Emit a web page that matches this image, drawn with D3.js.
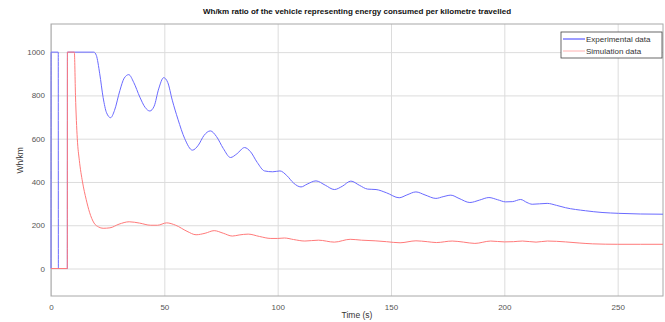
<!DOCTYPE html>
<meta charset="utf-8">
<style>
body { margin: 0; background: #fff; }
svg { font-family: "Liberation Sans", Arial, sans-serif; }
.grid line { stroke: #dcdcdc; stroke-width: 1px; }
.grid path { stroke: none; }
.axis text { fill: #555; font-size: 8px; }
.axis path, .axis line { stroke: none; }
.line { fill: none; stroke-width: 1px; }
</style>
<body>
<script src="https://d3js.org/d3.v7.min.js"></script>
<script>
// Experimental data: time (s) and Wh/km
var expTime = [0, 0.05, 3.2, 3.25, 7.2, 7.25, 18.9, 20, 21.5, 23, 24.5, 26.3, 28, 30.4, 32.3, 34.3, 36.5, 39.2, 41.5, 43.6, 45.5, 47.5, 49.7, 51.5, 53.5, 56, 59, 62.4, 65, 67.5, 70.3, 73, 76, 79.2, 82, 85.4, 88, 91, 94.2, 97.8, 101, 104, 107, 110.3, 113, 116.9, 121, 125, 128.5, 132.3, 136, 139.7, 143.4, 148, 153.6, 157, 161, 165, 169.8, 173, 176.4, 180, 184.8, 189, 193.2, 197, 200.6, 203.5, 207.2, 210, 212.3, 218.9, 223, 227, 235.8, 243.1, 250.4, 260, 270];
var expValue = [0, 1000, 1000, 0, 0, 1000, 1000, 985, 900, 790, 720, 697, 730, 823, 880, 896, 860, 792, 745, 728, 750, 830, 882, 860, 778, 690, 600, 547, 570, 615, 636, 610, 555, 513, 530, 559, 540, 490, 451, 447, 451, 430, 395, 377, 390, 405, 385, 365, 380, 404, 385, 367, 365, 350, 327, 340, 354, 340, 324, 332, 339, 324, 305, 316, 328, 318, 308, 309, 319, 305, 297, 301, 292, 281, 267, 259, 255, 252, 251];

// Simulation data
var simTime = [0, 7.2, 7.25, 10.3, 10.8, 11.6, 12.5, 13.9, 15.5, 17, 19, 21, 23, 26, 30, 34.5, 39, 44, 47, 51, 55, 60, 64, 68, 72, 76, 80, 83, 87, 92, 97, 100, 103, 107, 112, 118, 125, 132, 137, 143, 148, 154, 161, 166, 170, 177, 182, 187, 194, 200, 204, 208, 214, 219, 227, 233, 239, 250, 260, 270];
var simValue = [0, 0, 1000, 1000, 800, 600, 500, 400, 320, 260, 210, 192, 186, 188, 205, 216, 210, 200, 200, 211, 200, 172, 156, 163, 175, 163, 150, 155, 159, 148, 139, 139, 141, 134, 127, 131, 122, 135, 131, 128, 124, 119, 128, 124, 120, 127, 122, 116, 127, 123, 124, 127, 122, 127, 123, 118, 114, 112, 112, 112];

var xTicks = [0, 50, 100, 150, 200, 250];
var yTicks = [0, 200, 400, 600, 800, 1000];
var seriesNames = ["Experimental data", "Simulation data"];
var seriesColors = ["#6a6aff", "#ff7a7a"];

var W = 665, H = 322;
var margin = {top: 24, right: 2, bottom: 26, left: 51};
var width = W - margin.left - margin.right,
    height = H - margin.top - margin.bottom;

var svg = d3.select("body").append("svg")
    .attr("width", W)
    .attr("height", H);

var g = svg.append("g")
    .attr("transform", "translate(" + margin.left + "," + margin.top + ")");

var x = d3.scaleLinear().domain([0, 270]).range([0, width]);
var y = d3.scaleLinear().domain([-127, 1130]).range([height, 0]);

// grid
g.append("g").attr("class", "grid")
    .attr("transform", "translate(0," + height + ")")
    .call(d3.axisBottom(x).tickValues(xTicks).tickSize(-height).tickFormat(""));
g.append("g").attr("class", "grid")
    .call(d3.axisLeft(y).tickValues(yTicks).tickSize(-width).tickFormat(""));

// axes labels
g.append("g").attr("class", "axis")
    .attr("transform", "translate(0," + height + ")")
    .call(d3.axisBottom(x).tickValues(xTicks).tickSize(0).tickPadding(8).tickFormat(d3.format("d")));
g.append("g").attr("class", "axis")
    .call(d3.axisLeft(y).tickValues(yTicks).tickSize(0).tickPadding(6).tickFormat(d3.format("d")));

// box
g.append("rect")
    .attr("width", width).attr("height", height)
    .attr("fill", "none").attr("stroke", "#a8a8a8").attr("stroke-width", 1);

var line = d3.line()
    .x(function(d) { return x(d[0]); })
    .y(function(d) { return y(d[1]); })
    .curve(d3.curveMonotoneX);

var expData = d3.zip(expTime, expValue);
var simData = d3.zip(simTime, simValue);

g.append("path").datum(expData)
    .attr("class", "line")
    .attr("stroke", seriesColors[0])
    .attr("d", line);
g.append("path").datum(simData)
    .attr("class", "line")
    .attr("stroke", seriesColors[1])
    .attr("d", line);

// title
svg.append("text")
    .attr("x", margin.left + width / 2).attr("y", 14)
    .attr("text-anchor", "middle")
    .style("font-size", "8px").style("font-weight", "bold").style("fill", "#111")
    .text("Wh/km ratio of the vehicle representing energy consumed per kilometre travelled");

svg.append("text")
    .attr("x", margin.left + width / 2).attr("y", 318)
    .attr("text-anchor", "middle")
    .style("font-size", "8.5px").style("fill", "#333")
    .text("Time (s)");

svg.append("text")
    .attr("transform", "translate(23," + (margin.top + y(500)) + ") rotate(-90)")
    .attr("text-anchor", "middle")
    .style("font-size", "8.5px").style("fill", "#333")
    .text("Wh/km");

// legend
var leg = svg.append("g").attr("transform", "translate(561,32)");
leg.append("rect")
    .attr("width", 101).attr("height", 26)
    .attr("fill", "#fff").attr("stroke", "#444").attr("stroke-width", 0.8);
seriesNames.forEach(function(name, i) {
  var yy = 7 + i * 12;
  leg.append("line")
      .attr("x1", 2).attr("x2", 24).attr("y1", yy).attr("y2", yy)
      .attr("stroke", i === 0 ? "#3a3aff" : "#ffb0b0").attr("stroke-width", 1);
  leg.append("text")
      .attr("x", 25).attr("y", yy + 3)
      .style("font-size", "8px").style("fill", "#333")
      .text(name);
});
</script>
</body>
